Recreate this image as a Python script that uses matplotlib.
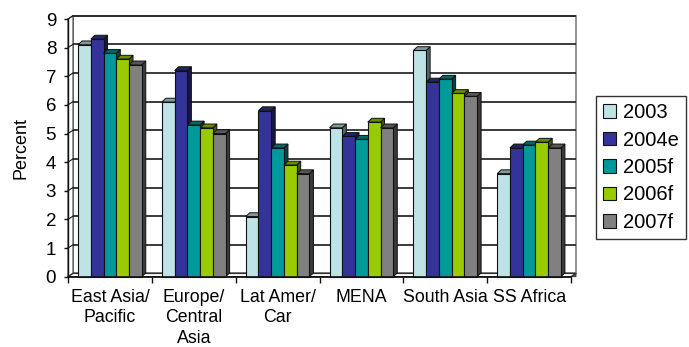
import matplotlib
matplotlib.use("Agg")
import matplotlib.pyplot as plt
from matplotlib.patches import Polygon
import matplotlib.colors as mcolors
import numpy as np

plt.rcParams['font.family'] = ['Liberation Sans', 'DejaVu Sans']

# ---- data -------------------------------------------------------------
regions = ["East Asia/\nPacific", "Europe/\nCentral\nAsia", "Lat Amer/\nCar",
           "MENA", "South Asia", "SS Africa"]
years = ["2003", "2004e", "2005f", "2006f", "2007f"]
growth_2003 = [8.1, 6.1, 2.1, 5.2, 7.9, 3.6]
growth_2004e = [8.3, 7.2, 5.8, 4.9, 6.8, 4.5]
growth_2005f = [7.8, 5.3, 4.5, 4.8, 6.9, 4.6]
growth_2006f = [7.6, 5.2, 3.9, 5.4, 6.4, 4.7]
growth_2007f = [7.4, 5.0, 3.6, 5.2, 6.3, 4.5]
series = [growth_2003, growth_2004e, growth_2005f, growth_2006f, growth_2007f]
colors = ["#BDE3E6", "#333399", "#009999", "#99CC00", "#808080"]
y_ticks = list(range(0, 10))

# ---- figure / axes ----------------------------------------------------
W, H, DPI = 689, 347, 100
fig = plt.figure(figsize=(W / DPI, H / DPI), dpi=DPI)
fig.patch.set_facecolor("white")

ax_l, ax_r, ax_b, ax_t = 68, 571, 276.7, 19
ax = fig.add_axes([ax_l / W, (H - ax_b) / H, (ax_r - ax_l) / W, (ax_b - ax_t) / H])
ax.set_xlim(-0.5, len(regions) - 0.5)
ax.set_ylim(0, 9)
ax.set_facecolor("none")

# pixel -> data conversion for the oblique depth
px_x = (ax_r - ax_l) / len(regions)
px_y = (ax_b - ax_t) / 9.0
wall_dx, wall_dy = 5 / px_x, 3.3 / px_y
bar_dx, bar_dy = 4 / px_x, 3.8 / px_y

x0, x1 = -0.5, len(regions) - 0.5

# back wall
ax.add_patch(Polygon([(x0 + wall_dx, wall_dy), (x1 + wall_dx, wall_dy),
                      (x1 + wall_dx, 9 + wall_dy), (x0 + wall_dx, 9 + wall_dy)],
                     closed=True, facecolor="white", edgecolor="#808080",
                     lw=1.2, clip_on=False, zorder=0))
# left side wall
ax.add_patch(Polygon([(x0, 0), (x0 + wall_dx, wall_dy), (x0 + wall_dx, 9 + wall_dy), (x0, 9)],
                     closed=True, facecolor="white", edgecolor="#404040",
                     lw=0.8, clip_on=False, zorder=0.5))
# gridlines on the back wall and the side wall
for t in y_ticks[1:]:
    ax.plot([x0 + wall_dx, x1 + wall_dx], [t + wall_dy, t + wall_dy],
            color="#1a1a1a", lw=1.2, clip_on=False, zorder=1, solid_capstyle="butt")
    ax.plot([x0, x0 + wall_dx], [t, t + wall_dy], color="#1a1a1a", lw=0.8,
            clip_on=False, zorder=1)
# floor
ax.add_patch(Polygon([(x0, 0), (x1, 0), (x1 + wall_dx, wall_dy), (x0 + wall_dx, wall_dy)],
                     closed=True, facecolor="white", edgecolor="#303030",
                     lw=1.0, clip_on=False, zorder=1.2))
ax.add_patch(Polygon([(x1, 0), (x1 + wall_dx, wall_dy), (x1 + wall_dx, 0)],
                     closed=True, facecolor="#606060", edgecolor="#303030",
                     lw=0.6, clip_on=False, zorder=1.1))


def shade(c, f):
    r, g, b = mcolors.to_rgb(c)
    return (r * f, g * f, b * f)


# ---- bars ---------------------------------------------------------------
n = len(series)
bw = 0.152
xc = np.arange(len(regions))
containers = []
for j in range(n):
    pos = xc + (j - (n - 1) / 2) * bw
    bc = ax.bar(pos, series[j], width=bw, color=colors[j], edgecolor="#111111",
                linewidth=0.8, label=years[j], clip_on=False)
    containers.append(bc)

# oblique top and side faces; each bar's front covers its left neighbour's side
for i in range(len(regions)):
    for j in range(n):
        rect = containers[j].patches[i]
        left, bwid, v = rect.get_x(), rect.get_width(), rect.get_height()
        k = i * n + j
        zb = 2 + 0.02 * k
        ax.add_patch(Polygon([(left + bwid, 0), (left + bwid + bar_dx, bar_dy),
                              (left + bwid + bar_dx, v + bar_dy), (left + bwid, v)],
                             closed=True, facecolor=shade(colors[j], 0.45),
                             edgecolor="#111111", lw=0.7, zorder=zb, clip_on=False))
        ax.add_patch(Polygon([(left, v), (left + bwid, v), (left + bwid + bar_dx, v + bar_dy),
                              (left + bar_dx, v + bar_dy)],
                             closed=True, facecolor=shade(colors[j], 0.68),
                             edgecolor="#111111", lw=0.7, zorder=zb, clip_on=False))
        rect.set_zorder(zb + 0.01)

# ---- axes styling ------------------------------------------------------
for s in ["top", "right"]:
    ax.spines[s].set_visible(False)
ax.spines["left"].set_color("#111111")
ax.spines["left"].set_linewidth(1.0)
ax.spines["bottom"].set_color("#111111")
ax.spines["bottom"].set_linewidth(1.2)
ax.spines["left"].set_zorder(10)
ax.spines["bottom"].set_zorder(10)

ax.set_yticks(y_ticks)
ax.set_yticklabels([str(t) for t in y_ticks])
ax.tick_params(axis="y", direction="out", length=3, width=1, pad=5.5,
               labelsize=13.5, color="#111111")

ax.set_xticks(np.arange(-0.5, len(regions)), minor=False)
ax.set_xticklabels([])
ax.set_xticks(xc, minor=True)
ax.set_xticklabels(regions, minor=True, linespacing=1.28)
ax.tick_params(axis="x", which="major", direction="out", length=4, width=1, color="#111111")
ax.tick_params(axis="x", which="minor", length=0, pad=8.5, labelsize=12.8)

ax.set_ylabel("Percent", fontsize=13)
ax.yaxis.set_label_coords(-0.077, 0.5)

# ---- legend ------------------------------------------------------------
leg = fig.legend(handles=[c.patches[0] for c in containers], labels=years,
                 loc="upper left", bbox_to_anchor=(596 / W, 1 - 96 / H),
                 fontsize=14.5, frameon=True, fancybox=False, shadow=False,
                 handlelength=0.65, handleheight=0.65, handletextpad=0.35,
                 labelspacing=0.42, borderpad=0.35, borderaxespad=0)
leg.get_frame().set_edgecolor("black")
leg.get_frame().set_linewidth(1.0)

fig.savefig("out.png", dpi=DPI, facecolor="white")
